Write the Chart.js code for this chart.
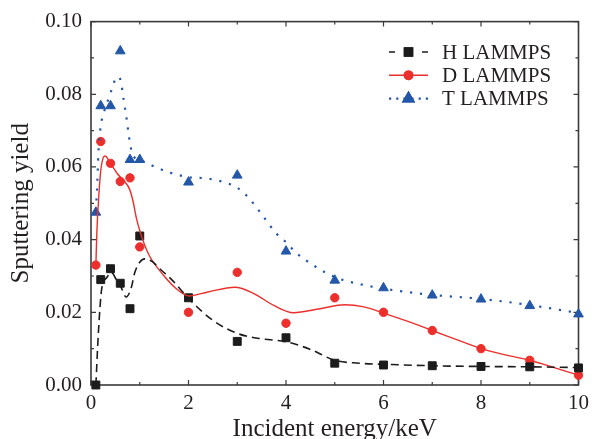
<!DOCTYPE html>
<html>
<head>
<meta charset="utf-8">
<script src="https://cdn.jsdelivr.net/npm/chart.js@4.4.0/dist/chart.umd.min.js"></script>
<style>
  html, body { margin: 0; padding: 0; background: #fff; }
  canvas { display: block; }
</style>
</head>
<body>
<canvas id="grafico" width="595" height="439"></canvas>
<script>
// energia incidente (keV) dos pontos simulados
const energia = [0.1, 0.2, 0.4, 0.6, 0.8, 1, 2, 3, 4, 5, 6, 7, 8, 9, 10];
const rendimentoH = [0, 0.029, 0.032, 0.028, 0.021, 0.041, 0.024, 0.012, 0.013, 0.006, 0.0055, 0.0053, 0.0051, 0.005, 0.0047];
const rendimentoD = [0.033, 0.067, 0.061, 0.056, 0.057, 0.038, 0.020, 0.031, 0.017, 0.024, 0.020, 0.015, 0.010, 0.0068, 0.0027];
const rendimentoT = [0.0475, 0.0768, 0.0768, 0.0919, 0.062, 0.062, 0.0558, 0.0577, 0.0368, 0.0288, 0.0267, 0.0247, 0.0236, 0.0218, 0.0195];

// curvas de ajuste
const ajusteHx = [0.1, 0.15, 0.22, 0.32, 0.42, 0.52, 0.62, 0.72, 0.82, 0.9, 1.0, 1.1, 1.25, 1.45, 1.67, 2.0, 2.5, 3.0, 3.5, 4.0, 4.5, 5.0, 5.5, 6, 7, 8, 9, 10];
const ajusteHy = [0, 0.014, 0.0265, 0.0295, 0.031, 0.029, 0.0268, 0.0242, 0.0265, 0.031, 0.0338, 0.0347, 0.034, 0.0315, 0.0288, 0.0238, 0.0178, 0.0142, 0.0127, 0.0119, 0.0098, 0.0068, 0.006, 0.0057, 0.0053, 0.0051, 0.005, 0.0048];

const ajusteDx = [0.1, 0.12, 0.16, 0.2, 0.25, 0.29, 0.39, 0.55, 0.69, 0.79, 0.86, 0.93, 1.0, 1.1, 1.2, 1.5, 1.75, 2.0, 2.4, 2.95, 3.35, 3.75, 4.15, 4.7, 5.2, 5.6, 6.0, 6.5, 7, 7.5, 8, 8.5, 9, 9.5, 10];
const ajusteDy = [0.033, 0.042, 0.052, 0.059, 0.0625, 0.063, 0.0612, 0.058, 0.056, 0.0539, 0.0507, 0.046, 0.0425, 0.0385, 0.0355, 0.030, 0.0265, 0.0245, 0.0256, 0.0269, 0.0251, 0.0219, 0.0199, 0.021, 0.0221, 0.0215, 0.0198, 0.0175, 0.015, 0.0125, 0.010, 0.0083, 0.0068, 0.0048, 0.0027];

const ajusteTx = [0.1, 0.13, 0.15, 0.18, 0.2, 0.24, 0.3, 0.37, 0.44, 0.51, 0.56, 0.61, 0.67, 0.73, 0.78, 0.84, 0.9, 1.0, 1.25, 1.6, 2.0, 2.4, 2.8, 3.0, 3.2, 3.5, 3.8, 4.0, 4.2, 4.4, 4.6, 4.8, 5.1, 5.5, 6.1, 7, 8, 9, 10];
const ajusteTy = [0.048, 0.0557, 0.0636, 0.0688, 0.0714, 0.0739, 0.0765, 0.0792, 0.0819, 0.0845, 0.0848, 0.0837, 0.0785, 0.0733, 0.0682, 0.064, 0.0625, 0.062, 0.0604, 0.0585, 0.0572, 0.0568, 0.0555, 0.0543, 0.052, 0.047, 0.0417, 0.0393, 0.0365, 0.0344, 0.0326, 0.031, 0.0292, 0.0278, 0.0263, 0.0248, 0.0237, 0.022, 0.0198];

const rotulos = ['H LAMMPS', 'D LAMMPS', 'T LAMMPS'];

const corH = '#1c1c1c';
const corD = '#ec2f2c';
const corT = '#2457a8';
const corTexto = '#231f20';
const fonte = 'Liberation Serif';

function pares(xs, ys) {
    return xs.map((x, i) => ({x: x, y: ys[i]}));
}

function curva(xs, ys, cor, largura, traco) {
    return {
        type: 'line',
        data: pares(xs, ys),
        borderColor: cor,
        borderWidth: largura,
        borderDash: traco,
        pointRadius: 0,
        fill: false,
        cubicInterpolationMode: 'monotone'
    };
}

function pontos(ys, cor, estilo, raio, rotulo, traco, largura) {
    return {
        type: 'scatter',
        label: rotulo,
        data: pares(energia, ys),
        backgroundColor: cor,
        borderColor: cor,
        borderWidth: 1,
        pointStyle: estilo,
        pointRadius: raio,
        clip: false,
        legenda: {traco: traco, largura: largura}
    };
}

// moldura com marcas para dentro nos quatro lados
const molduraPlugin = {
    id: 'moldura',
    beforeDatasetsDraw(chart) {
        const {ctx, chartArea: a, scales: {x, y}} = chart;
        ctx.save();
        ctx.strokeStyle = '#3a3a3a';
        ctx.lineWidth = 1.6;
        ctx.strokeRect(a.left, a.top, a.right - a.left, a.bottom - a.top);
        ctx.lineWidth = 1.2;
        ctx.beginPath();
        for (let v = 0; v <= 10.001; v += 1) {
            const px = x.getPixelForValue(v);
            const t = (Math.round(v) % 2 === 0) ? 5 : 3;
            ctx.moveTo(px, a.bottom); ctx.lineTo(px, a.bottom - t);
            ctx.moveTo(px, a.top); ctx.lineTo(px, a.top + t);
        }
        for (let k = 0; k <= 10; k++) {
            const py = y.getPixelForValue(k * 0.01);
            const t = (k % 2 === 0) ? 5 : 3;
            ctx.moveTo(a.left, py); ctx.lineTo(a.left + t, py);
            ctx.moveTo(a.right, py); ctx.lineTo(a.right - t, py);
        }
        ctx.stroke();
        ctx.restore();
    }
};

const legendaPlugin = {
    id: 'legenda',
    afterDatasetsDraw(chart) {
        const ctx = chart.ctx;
        const x0 = 389, x1 = 428, xm = 408.5, xt = 442;
        let yl = 52;
        chart.data.datasets.forEach(ds => {
            if (!ds.legenda) return;
            ctx.save();
            ctx.strokeStyle = ds.borderColor;
            ctx.lineWidth = ds.legenda.largura;
            ctx.setLineDash(ds.legenda.traco);
            ctx.beginPath();
            ctx.moveTo(x0, yl); ctx.lineTo(xm, yl);
            ctx.moveTo(x1, yl); ctx.lineTo(xm, yl);
            ctx.stroke();
            ctx.setLineDash([]);
            ctx.fillStyle = ds.backgroundColor;
            Chart.helpers.drawPoint(ctx, {pointStyle: ds.pointStyle, radius: ds.pointRadius, rotation: 0, borderWidth: 1}, xm, yl);
            ctx.fill();
            ctx.stroke();
            ctx.fillStyle = corTexto;
            ctx.font = '21px "' + fonte + '"';
            ctx.textBaseline = 'middle';
            ctx.textAlign = 'left';
            ctx.fillText(ds.label, xt, yl + 1);
            ctx.restore();
            yl += 23.3;
        });
    }
};

new Chart(document.getElementById('grafico'), {
    data: {
        datasets: [
            curva(ajusteHx, ajusteHy, corH, 1.6, [8, 5]),
            curva(ajusteDx, ajusteDy, corD, 1.4, []),
            curva(ajusteTx, ajusteTy, corT, 2.2, [2.2, 7.8]),
            pontos(rendimentoH, corH, 'rect', 5.6, rotulos[0], [6, 20], 1.6),
            pontos(rendimentoD, corD, 'circle', 4.2, rotulos[1], [], 1.4),
            pontos(rendimentoT, corT, 'triangle', 5.6, rotulos[2], [2.2, 5], 2.2)
        ]
    },
    options: {
        responsive: false,
        animation: false,
        devicePixelRatio: 1,
        layout: {padding: {top: 20, right: 11, left: 0, bottom: 0}},
        plugins: {
            legend: {display: false},
            tooltip: {enabled: false}
        },
        scales: {
            x: {
                type: 'linear',
                min: 0,
                max: 10,
                grid: {display: false, drawTicks: false},
                border: {display: false},
                ticks: {
                    stepSize: 2,
                    padding: 6,
                    color: corTexto,
                    font: {family: fonte, size: 21}
                },
                title: {
                    display: true,
                    text: 'Incident energy/keV',
                    color: corTexto,
                    padding: 0,
                    font: {family: fonte, size: 25, lineHeight: 0.8}
                },
                afterFit(scale) { scale.height = 54; }
            },
            y: {
                type: 'linear',
                min: 0,
                max: 0.1,
                grid: {display: false, drawTicks: false},
                border: {display: false},
                ticks: {
                    stepSize: 0.02,
                    padding: 9,
                    color: corTexto,
                    font: {family: fonte, size: 21},
                    callback: v => v.toFixed(2)
                },
                title: {
                    display: true,
                    text: 'Sputtering yield',
                    color: corTexto,
                    padding: {top: 6, bottom: 0},
                    font: {family: fonte, size: 25}
                },
                afterFit(scale) { scale.width = 91; }
            }
        }
    },
    plugins: [molduraPlugin, legendaPlugin]
});
</script>
</body>
</html>
